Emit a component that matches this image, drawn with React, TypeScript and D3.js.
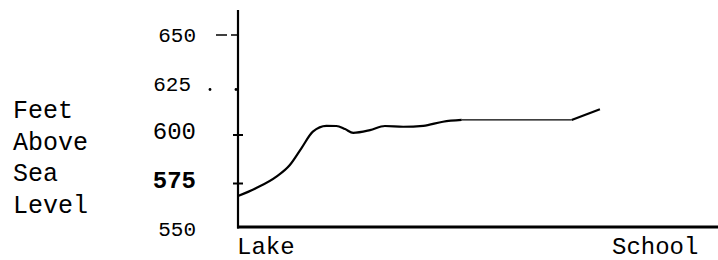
import { useEffect, useRef } from "react";
import * as d3 from "d3";

// distance from the lake (arbitrary units) and elevation in feet
const distance = [0, 3.8, 8, 10.8, 13.2, 15.6, 18.4, 20.5, 22.3, 24, 27.5, 30.6, 34.4, 38.6, 42.7, 46.6, 69.5, 75.4];
const elevation = [567, 571.1, 577, 583, 591.6, 600.2, 603.2, 603.1, 601.5, 599.6, 601, 603.1, 602.7, 603.2, 605.3, 606.2, 606.2, 611.7];
const yTicks = [650, 625, 600, 575, 550];
const xLabels = ["Lake", "School"];
const titleLines = ["Feet", "Above", "Sea", "Level"];

const width = 718;
const height = 260;
const mono = "'Liberation Mono', 'DejaVu Sans Mono', monospace";

export default function App() {
  const svgRef = useRef<SVGSVGElement>(null);

  useEffect(() => {
    const svg = d3.select(svgRef.current);
    svg.selectAll("*").remove();

    const left = 238;
    const bottom = 227;

    const xScale = d3.scaleLinear().domain([0, 100]).range([left, 718]);
    const yScale = d3.scaleLinear().domain([550, 650]).range([229, 35]);

    const pts = distance.map((d, i) => ({ x: d, y: elevation[i] }));

    const line = d3
      .line<{ x: number; y: number }>()
      .x((d) => xScale(d.x))
      .y((d) => yScale(d.y))
      .curve(d3.curveMonotoneX);

    // axes
    svg.append("line")
      .attr("x1", left).attr("x2", left)
      .attr("y1", 10).attr("y2", bottom + 1.5)
      .attr("stroke", "#000").attr("stroke-width", 2.2);
    svg.append("line")
      .attr("x1", left - 1).attr("x2", 718)
      .attr("y1", bottom).attr("y2", bottom)
      .attr("stroke", "#000").attr("stroke-width", 3);

    // tick marks, each drawn in its own hand style
    yTicks.forEach((t, i) => {
      const y = yScale(t);
      if (i === 0) {
        svg.append("line").attr("x1", 216).attr("x2", 227).attr("y1", y).attr("y2", y)
          .attr("stroke", "#000").attr("stroke-width", 1.5);
        svg.append("line").attr("x1", 231).attr("x2", left).attr("y1", y).attr("y2", y)
          .attr("stroke", "#000").attr("stroke-width", 1.5);
      } else if (i === 1) {
        [210, 236].forEach((cx) =>
          svg.append("circle").attr("cx", cx).attr("cy", y + 6).attr("r", 1.4).attr("fill", "#000")
        );
      } else if (i === 2 || i === 3) {
        svg.append("line").attr("x1", left - 5).attr("x2", left + 5).attr("y1", y + 3).attr("y2", y + 3)
          .attr("stroke", "#000").attr("stroke-width", 2);
      }
    });

    // tick labels
    svg.append("g")
      .selectAll("text")
      .data(yTicks)
      .join("text")
      .attr("x", (d, i) => (i === 1 ? 191 : 196))
      .attr("y", (d) => yScale(d) + 7)
      .attr("text-anchor", "end")
      .attr("font-family", mono)
      .attr("font-size", (d, i) => (i === 2 || i === 3 ? 24 : 21))
      .attr("font-weight", (d, i) => (i === 3 ? "bold" : "normal"))
      .text((d) => d);

    // axis title
    svg.append("g")
      .selectAll("text")
      .data(titleLines)
      .join("text")
      .attr("x", 13)
      .attr("y", (d, i) => 118 + i * 31.7)
      .attr("font-family", mono)
      .attr("font-size", 25)
      .text((d) => d);

    // x labels
    svg.append("text")
      .attr("x", xScale(0) - 1)
      .attr("y", 254)
      .attr("font-family", mono)
      .attr("font-size", 24)
      .text(xLabels[0]);
    svg.append("text")
      .attr("x", 612)
      .attr("y", 254)
      .attr("font-family", mono)
      .attr("font-size", 24)
      .text(xLabels[1]);

    // profile: thick hand-drawn parts and a thin flat stretch
    svg.append("path")
      .datum(pts.slice(0, 16))
      .attr("fill", "none").attr("stroke", "#000").attr("stroke-width", 2.2)
      .attr("d", line);
    svg.append("path")
      .datum(pts.slice(15, 17))
      .attr("fill", "none").attr("stroke", "#000").attr("stroke-width", 1.3)
      .attr("d", line);
    svg.append("path")
      .datum(pts.slice(16))
      .attr("fill", "none").attr("stroke", "#000").attr("stroke-width", 2.2)
      .attr("d", line);
  }, []);

  return (
    <svg
      ref={svgRef}
      width={width}
      height={height}
      style={{ position: "absolute", left: 0, top: 0, background: "#fff" }}
    ></svg>
  );
}
